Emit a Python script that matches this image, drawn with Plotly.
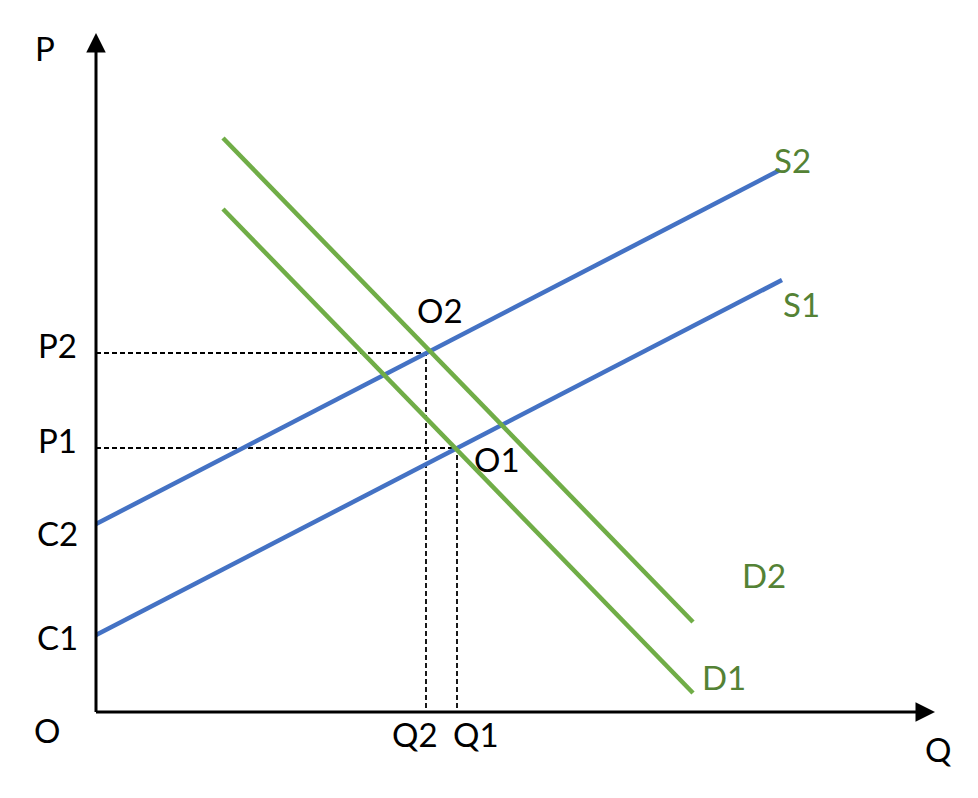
import plotly.graph_objects as go

# Curves (Q, P) in diagram units
s1_q = [0.0, 68.6]
s1_p = [7.7, 43.2]
s2_q = [0.0, 68.4]
s2_p = [18.8, 54.2]
d1_q = [12.7, 59.7]
d1_p = [50.3, 1.9]
d2_q = [12.7, 59.7]
d2_p = [57.4, 9.0]

# Equilibria
q_eq = {"Q1": 36.1, "Q2": 33.0}
p_eq = {"P1": 26.4, "P2": 35.9}
c_vals = {"C1": 7.7, "C2": 18.8}

BLUE = "#4472C4"
GREEN = "#70AD47"
LABEL_GREEN = "#548235"
FONT = "Lato"
FS = 33

fig = go.Figure()

# dashed guides
for (qn, q), (pn, p) in zip(q_eq.items(), p_eq.items()):
    fig.add_trace(go.Scatter(x=[0, q, q], y=[p, p, 0], mode="lines",
                             line=dict(color="black", width=1.8, dash="5px,3px"),
                             hoverinfo="skip", showlegend=False))

for qs, ps, col in [(s2_q, s2_p, BLUE), (s1_q, s1_p, BLUE),
                    (d2_q, d2_p, GREEN), (d1_q, d1_p, GREEN)]:
    fig.add_trace(go.Scatter(x=qs, y=ps, mode="lines",
                             line=dict(color=col, width=4.5),
                             hoverinfo="skip", showlegend=False))

# axes lines with arrows
fig.add_annotation(x=0, y=67.9, ax=0, ay=-0.15, xref="x", yref="y", axref="x", ayref="y",
                   showarrow=True, arrowhead=2, arrowsize=1.3, arrowwidth=3,
                   arrowcolor="black", text="")
fig.add_annotation(x=83.9, y=0, ax=-0.15, ay=0, xref="x", yref="y", axref="x", ayref="y",
                   showarrow=True, arrowhead=2, arrowsize=1.3, arrowwidth=3,
                   arrowcolor="black", text="")

def label(txt, x, y, color="black"):
    fig.add_annotation(x=x, y=y, xref="x", yref="y", text=txt, showarrow=False,
                       font=dict(family=FONT, size=FS, color=color),
                       xanchor="center", yanchor="middle")

label("P", -5.1, 66.4)
label("Q", 84.2, -3.7)
label("O", -4.9, -1.8)
label("P2", -3.85, p_eq["P2"] + 0.8)
label("P1", -3.85, p_eq["P1"] + 0.8)
label("C2", -3.85, c_vals["C2"] - 0.9)
label("C1", -3.85, c_vals["C1"] - 0.2)
label("Q2", q_eq["Q2"] - 1.1, -2.2)
label("Q1", q_eq["Q1"] + 1.9, -2.2)
label("O2", 34.4, 40.2)
label("O1", 40.1, 25.3)
label("S2", 69.6, 55.2, LABEL_GREEN)
label("S1", 70.5, 40.8, LABEL_GREEN)
label("D2", 66.8, 13.7, LABEL_GREEN)
label("D1", 62.8, 3.5, LABEL_GREEN)

fig.update_layout(
    width=962, height=782,
    margin=dict(l=0, r=0, t=0, b=0),
    paper_bgcolor="white", plot_bgcolor="white",
    xaxis=dict(range=[-8.8, 87.4], visible=False, fixedrange=True),
    yaxis=dict(range=[-7.8, 70.4], visible=False, fixedrange=True),
    showlegend=False,
)

fig.write_html("out.html")
